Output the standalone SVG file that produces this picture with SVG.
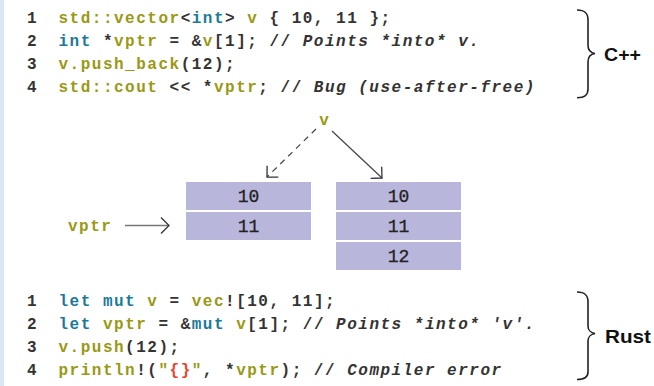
<svg xmlns="http://www.w3.org/2000/svg" width="654" height="386" viewBox="0 0 654 386">
<style>
.code{font-family:"Liberation Mono","DejaVu Sans Mono",monospace;font-size:16px;font-weight:bold;letter-spacing:1.5px;fill:#333}
.num{font-family:"Liberation Mono","DejaVu Sans Mono",monospace;font-size:16px;font-weight:bold;letter-spacing:1.5px;fill:#333}
.o{fill:#999914}
.b{fill:#1a7a9c}
.r{fill:#e8452c}
.c{font-style:italic}
.cell{fill:#b9b6db}
.val{font-family:"Liberation Mono","DejaVu Sans Mono",monospace;font-size:18px;fill:#222;text-anchor:middle;stroke:#222;stroke-width:0.3}
.brace{fill:none;stroke:#222;stroke-width:1.6}
.lang{font-family:"Liberation Sans",Arial,sans-serif;font-size:18.5px;font-weight:bold;fill:#111}
.arr{fill:none;stroke:#444;stroke-width:1.2}
</style>
<defs>
<marker id="head" markerUnits="userSpaceOnUse" markerWidth="20" markerHeight="20" refX="0" refY="0" viewBox="-10 -10 20 20" orient="auto">
<path d="M-8,-8 L0,0 L-8,8" fill="none" stroke="#333" stroke-width="1.3"/>
</marker>
</defs>
<rect x="0" y="0" width="4" height="386" fill="#d8e7f3"/>

<g id="cpp-code">
<text class="num" x="27" y="22.5">1</text>
<text class="num" x="27" y="45.5">2</text>
<text class="num" x="27" y="68.5">3</text>
<text class="num" x="27" y="91.5">4</text>
<text class="code" x="58.5" y="22.5"><tspan class="o">std::vector</tspan>&lt;<tspan class="b">int</tspan>&gt; <tspan class="o">v</tspan> { 10, 11 };</text>
<text class="code" x="58.5" y="45.5"><tspan class="b">int</tspan> *<tspan class="o">vptr</tspan> = &amp;<tspan class="o">v</tspan>[1]; // <tspan class="c">Points *into* v.</tspan></text>
<text class="code" x="58.5" y="68.5"><tspan class="o">v.push_back</tspan>(12);</text>
<text class="code" x="58.5" y="91.5"><tspan class="o">std::cout</tspan> &lt;&lt; *<tspan class="o">vptr</tspan>; // <tspan class="c">Bug (use-after-free)</tspan></text>
</g>

<g id="cpp-brace">
<path class="brace" d="M577,10 C585,10 588,13 588,20 L588,45 C588,50 591,53 595,53.5 C591,54 588,57 588,62 L588,89 C588,95 585,97.7 577,97.7"/>
<text class="lang" x="604" y="60.5" textLength="37" lengthAdjust="spacingAndGlyphs">C++</text>
</g>

<g id="label-v">
<text class="code o" x="324" y="125" text-anchor="middle" style="letter-spacing:0">v</text>
</g>

<g id="label-vptr">
<text class="code o" x="68" y="231">vptr</text>
</g>

<g id="old-buffer">
<rect class="cell" x="186" y="182" width="125" height="28"/>
<rect class="cell" x="186" y="212" width="125" height="28"/>
<text class="val" x="248.5" y="202">10</text>
<text class="val" x="248.5" y="232">11</text>
</g>

<g id="new-buffer">
<rect class="cell" x="336" y="182" width="125" height="28"/>
<rect class="cell" x="336" y="212" width="125" height="28"/>
<rect class="cell" x="336" y="242" width="125" height="28"/>
<text class="val" x="398.5" y="202">10</text>
<text class="val" x="398.5" y="232">11</text>
<text class="val" x="398.5" y="262">12</text>
</g>

<g id="connectors">
<line x1="316" y1="129" x2="267" y2="177" class="arr" stroke-dasharray="6,5" marker-end="url(#head)"/>
<line x1="332" y1="131" x2="382" y2="178" class="arr" marker-end="url(#head)"/>
<line x1="125" y1="225.5" x2="169" y2="225.5" stroke="#777" stroke-width="1.6" marker-end="url(#head)"/>
</g>

<g id="rust-code">
<text class="num" x="27" y="306">1</text>
<text class="num" x="27" y="329">2</text>
<text class="num" x="27" y="352">3</text>
<text class="num" x="27" y="375">4</text>
<text class="code" x="58.5" y="306"><tspan class="b">let mut</tspan> <tspan class="o">v</tspan> = <tspan class="o">vec</tspan>![10, 11];</text>
<text class="code" x="58.5" y="329"><tspan class="b">let</tspan> <tspan class="o">vptr</tspan> = &amp;<tspan class="b">mut</tspan> <tspan class="o">v</tspan>[1]; // <tspan class="c">Points *into* 'v'.</tspan></text>
<text class="code" x="58.5" y="352"><tspan class="o">v.push</tspan>(12);</text>
<text class="code" x="58.5" y="375"><tspan class="o">println</tspan>!(<tspan class="o">"</tspan><tspan class="r">{}</tspan><tspan class="o">"</tspan>, *<tspan class="o">vptr</tspan>); // <tspan class="c">Compiler error</tspan></text>
</g>

<g id="rust-brace">
<path class="brace" d="M577,292 C585,292 588,295 588,302 L588,326 C588,330 591,333 595,333.5 C591,334 588,337 588,341 L588,372 C588,377 585,379.5 577,379.5"/>
<text class="lang" x="605" y="343" textLength="46" lengthAdjust="spacingAndGlyphs">Rust</text>
</g>
</svg>
